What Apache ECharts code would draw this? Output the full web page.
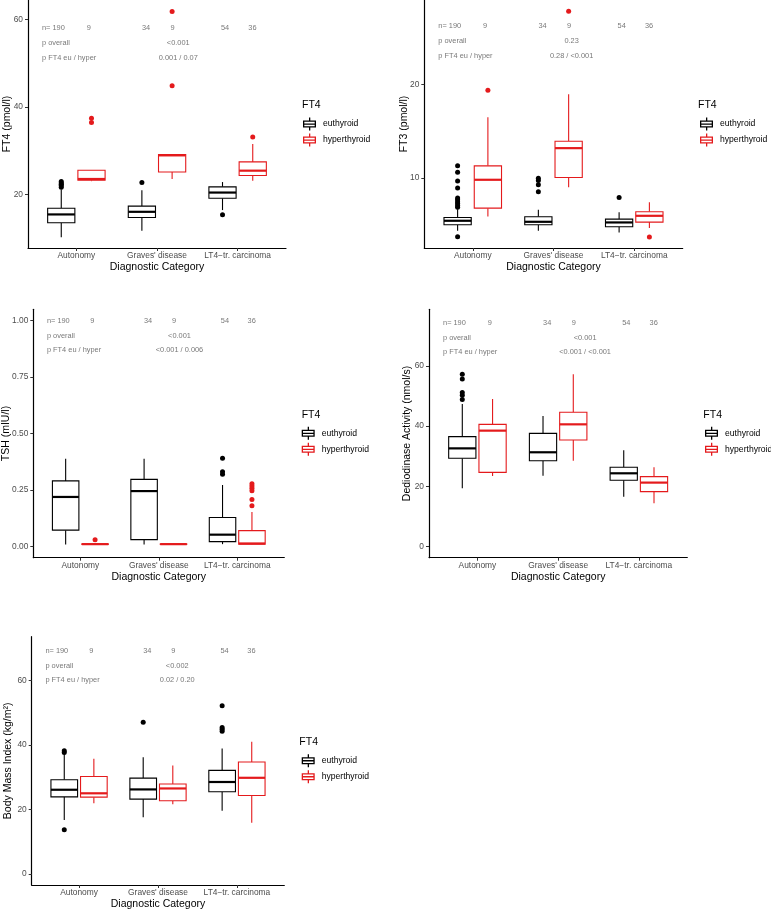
<!DOCTYPE html>
<html>
<head>
<meta charset="utf-8">
<script src="https://cdn.jsdelivr.net/npm/echarts@6/dist/echarts.min.js"></script>
<style>
  html, body { margin: 0; padding: 0; background: #fff; }
  #main { width: 771px; height: 910px; }
</style>
</head>
<body>
<div id="main"></div>
<script>
// categories / groups
const categories = ['Autonomy', "Graves' disease", 'LT4\u2212tr. carcinoma'];
const groups = ['euthyroid', 'hyperthyroid'];

// box stats per category: [min, Q1, median, Q3, max]
const ft4Eu = [[10.2, 13.5, 15.4, 16.8, 21.1], [11.7, 14.7, 16.0, 17.3, 20.9], [16.4, 19.1, 20.4, 21.7, 22.8]];
const ft4Hyper = [[23.0, 23.2, 23.5, 25.5, 25.5], [23.5, 25.1, 28.9, 29.1, 29.1], [23.1, 24.3, 25.4, 27.4, 31.5]];
const ft4EuOut = [[22.9, 22.6, 22.3, 22.0, 21.6], [22.7], [15.3]];
const ft4HyperOut = [[37.4, 36.4], [44.8, 61.8], [33.1]];

const ft3Eu = [[4.34, 4.98, 5.41, 5.76, 6.65], [4.34, 4.98, 5.3, 5.84, 6.58], [4.16, 4.77, 5.23, 5.59, 6.33]];
const ft3Hyper = [[5.87, 6.76, 9.79, 11.28, 16.48], [9.0, 10.04, 13.17, 13.91, 18.93], [4.63, 5.27, 5.94, 6.37, 7.4]];
const ft3EuOut = [[11.3, 10.6, 9.65, 8.9, 7.85, 7.65, 7.45, 7.25, 7.05, 6.85, 3.7], [9.95, 9.7, 9.25, 8.5], [7.9]];
const ft3HyperOut = [[19.36], [27.8], [3.67]];

const tshEu = [[0.009, 0.072, 0.219, 0.29, 0.388], [0.009, 0.03, 0.245, 0.297, 0.388], [0.01, 0.021, 0.052, 0.128, 0.272]];
const tshHyper = [[0.008, 0.009, 0.01, 0.011, 0.012], [0.008, 0.009, 0.01, 0.011, 0.012], [0.008, 0.01, 0.013, 0.07, 0.152]];
const tshEuOut = [[], [], [0.39, 0.331, 0.32]];
const tshHyperOut = [[0.03], [], [0.277, 0.267, 0.257, 0.246, 0.208, 0.18]];

const deiEu = [[19.3, 29.3, 32.6, 36.5, 47.4], [23.5, 28.5, 31.3, 37.6, 43.4], [16.5, 22.0, 24.3, 26.3, 32.0]];
const deiHyper = [[23.4, 24.6, 38.5, 40.6, 49.0], [28.5, 35.4, 40.6, 44.6, 57.3], [14.3, 18.2, 21.2, 23.2, 26.3]];
const deiEuOut = [[57.3, 55.7, 51.2, 50.3, 48.9], [], []];
const deiHyperOut = [[], [], []];

const bmiEu = [[16.7, 23.9, 26.1, 29.2, 37.2], [17.6, 23.2, 26.2, 29.7, 36.2], [19.6, 25.5, 28.5, 32.1, 38.9]];
const bmiHyper = [[21.9, 23.8, 25.0, 30.2, 35.7], [21.6, 22.7, 26.5, 27.9, 33.6], [15.9, 24.3, 29.8, 34.7, 41.0]];
const bmiEuOut = [[38.2, 37.6, 13.7], [47.0], [52.1, 45.4, 44.8, 44.2]];
const bmiHyperOut = [[], [], []];

// annotation texts
const nCounts = ['n= 190', '9', '34', '9', '54', '36'];
const pOverall = ['<0.001', '0.23', '<0.001', '<0.001', '<0.002'];
const pEuHyper = ['0.001 / 0.07', '0.28 / <0.001', '<0.001 / 0.006', '<0.001 / <0.001', '0.02 / 0.20'];

// y ticks per panel
const ft4Ticks = [20, 40, 60];
const ft3Ticks = [10, 20];
const tshTicks = [0, 0.25, 0.5, 0.75, 1];
const deiTicks = [0, 20, 40, 60];
const bmiTicks = [0, 20, 40, 60];

const RED = '#E41A1C';
const BLACK = '#000000';
const DODGE = 0.1875;
const BOX_W = 0.3375;
const FONT = '"Liberation Sans", Arial, sans-serif';

// legend glyph (mini boxplot)
const glyph = 'path://M6,0h1.3v3h-1.3z M0,3h13v1.3h-13z M0,3h1.3v7h-1.3z M11.7,3h1.3v7h-1.3z M0,8.7h13v1.3h-13z M0,5.9h13v1.3h-13z M6,10h1.3v3h-1.3z';

// panel layout
const panels = [
    { title: 'FT4 (pmol/l)', eu: ft4Eu, hyper: ft4Hyper, euOut: ft4EuOut, hyperOut: ft4HyperOut, ticks: ft4Ticks,
      grid: { left: 28, top: 0, width: 258, height: 248 }, yMin: 7.73, yMax: 64.4, nameGap: 15,
      noteY: [57.8, 54.4, 51.0], pX: 2.27, legend: { left: 303, top: 117.5 }, titleTop: 100, titleLeft: 302 },
    { title: 'FT3 (pmol/l)', eu: ft3Eu, hyper: ft3Hyper, euOut: ft3EuOut, hyperOut: ft3HyperOut, ticks: ft3Ticks,
      grid: { left: 424.3, top: 0, width: 258.4, height: 248 }, yMin: 2.5, yMax: 29.0, nameGap: 15,
      noteY: [26.16, 24.56, 22.95], pX: 2.23, legend: { left: 700, top: 117.5 }, titleTop: 100, titleLeft: 698 },
    { title: 'TSH (mIU/l)', eu: tshEu, hyper: tshHyper, euOut: tshEuOut, hyperOut: tshHyperOut, ticks: tshTicks,
      grid: { left: 33.3, top: 309.3, width: 251, height: 248.4 }, yMin: -0.05, yMax: 1.05, nameGap: 22, digits: 2,
      noteY: [0.996, 0.929, 0.866], pX: 2.27, legend: { left: 301.7, top: 426.8 }, titleTop: 409.7, titleLeft: 301.7 },
    { title: 'Dediodinase Activity (nmol/s)', eu: deiEu, hyper: deiHyper, euOut: deiEuOut, hyperOut: deiHyperOut, ticks: deiTicks,
      grid: { left: 429, top: 309.3, width: 258.3, height: 248.4 }, yMin: -3.8, yMax: 78.9, nameGap: 16,
      noteY: [74.2, 69.3, 64.4], pX: 2.34, legend: { left: 705, top: 426.8 }, titleTop: 409.7, titleLeft: 703.3 },
    { title: 'Body Mass Index (kg/m\u00B2)', eu: bmiEu, hyper: bmiHyper, euOut: bmiEuOut, hyperOut: bmiHyperOut, ticks: bmiTicks,
      grid: { left: 31.7, top: 636.7, width: 252.6, height: 248.3 }, yMin: -3.4, yMax: 73.5, nameGap: 18,
      noteY: [69.0, 64.3, 59.9], pX: 2.25, legend: { left: 301.7, top: 754.2 }, titleTop: 736.7, titleLeft: 299.3 }
];

// x positions of the n labels (data units)
const nX = [0.58, 1.16, 1.87, 2.2, 2.85, 3.19];

function boxRenderer(color) {
    return function (params, api) {
        const x = api.value(0);
        const lo = api.coord([x, api.value(1)]);
        const q1 = api.coord([x, api.value(2)]);
        const med = api.coord([x, api.value(3)]);
        const q3 = api.coord([x, api.value(4)]);
        const hi = api.coord([x, api.value(5)]);
        const w = api.size([BOX_W, 0])[0];
        const thin = { stroke: color, lineWidth: 1.1, fill: null };
        return {
            type: 'group',
            children: [
                { type: 'line', shape: { x1: lo[0], y1: lo[1], x2: q1[0], y2: q1[1] }, style: thin },
                { type: 'line', shape: { x1: q3[0], y1: q3[1], x2: hi[0], y2: hi[1] }, style: thin },
                { type: 'rect', shape: { x: q1[0] - w / 2, y: q3[1], width: w, height: q1[1] - q3[1] },
                  style: { stroke: color, lineWidth: 1.1, fill: '#fff' } },
                { type: 'line', shape: { x1: med[0] - w / 2, y1: med[1], x2: med[0] + w / 2, y2: med[1] },
                  style: { stroke: color, lineWidth: 2.2 } }
            ]
        };
    };
}

const option = {
    animation: false,
    backgroundColor: '#fff',
    textStyle: { fontFamily: FONT },
    grid: [], xAxis: [], yAxis: [], series: [], legend: [], title: []
};

panels.forEach((p, k) => {
    option.grid.push(Object.assign({ outerBoundsMode: 'none', containLabel: false }, p.grid));

    option.xAxis.push({
        type: 'value', gridIndex: k, min: 0.4, max: 3.6,
        name: 'Diagnostic Category', nameLocation: 'middle', nameGap: 14, nameMoveOverlap: false,
        nameTextStyle: { color: '#000', fontSize: 10.5, fontFamily: FONT },
        axisLine: { show: true, onZero: false, lineStyle: { color: '#000', width: 1.2 } },
        axisTick: { show: true, length: 3, customValues: [1, 2, 3], lineStyle: { color: '#333', width: 1 } },
        axisLabel: { customValues: [1, 2, 3], color: '#4D4D4D', fontSize: 8.4, margin: 4, fontFamily: FONT,
                     formatter: v => categories[Math.round(v) - 1] },
        splitLine: { show: false }
    });

    option.yAxis.push({
        type: 'value', gridIndex: k, min: p.yMin, max: p.yMax,
        name: p.title, nameLocation: 'middle', nameGap: p.nameGap, nameMoveOverlap: false,
        nameTextStyle: { color: '#000', fontSize: 10.5, fontFamily: FONT },
        axisLine: { show: true, onZero: false, lineStyle: { color: '#000', width: 1.2 } },
        axisTick: { show: true, length: 3, customValues: p.ticks, lineStyle: { color: '#333', width: 1 } },
        axisLabel: { customValues: p.ticks, color: '#4D4D4D', fontSize: 8.4, margin: 5, fontFamily: FONT,
                     formatter: v => p.digits ? v.toFixed(p.digits) : String(v) },
        splitLine: { show: false }
    });

    // boxes
    [[p.eu, -DODGE, BLACK, groups[0]], [p.hyper, DODGE, RED, groups[1]]].forEach(([stats, off, color, name]) => {
        option.series.push({
            type: 'custom', name: name, xAxisIndex: k, yAxisIndex: k,
            renderItem: boxRenderer(color),
            itemStyle: { color: color },
            encode: { x: 0, y: [1, 2, 3, 4, 5] },
            data: stats.map((s, i) => [i + 1 + off].concat(s)),
            silent: true
        });
    });

    // outliers
    [[p.euOut, -DODGE, BLACK, groups[0]], [p.hyperOut, DODGE, RED, groups[1]]].forEach(([outs, off, color, name]) => {
        const pts = [];
        outs.forEach((list, i) => list.forEach(v => pts.push([i + 1 + off, v])));
        option.series.push({
            type: 'scatter', name: name + ' outliers', xAxisIndex: k, yAxisIndex: k,
            symbol: 'circle', symbolSize: 5, itemStyle: { color: color, opacity: 1 },
            data: pts, silent: true
        });
    });

    // annotation texts
    const notes = [];
    const noteLabel = (text, align) => ({
        show: true, formatter: text, position: [0, 0], align: align, verticalAlign: 'middle',
        color: '#555', fontSize: 7.4, fontFamily: FONT
    });
    nCounts.forEach((t, i) => notes.push({ value: [nX[i], p.noteY[0]], label: noteLabel(t, i === 0 ? 'left' : 'center') }));
    notes.push({ value: [nX[0], p.noteY[1]], label: noteLabel('p overall', 'left') });
    notes.push({ value: [nX[0], p.noteY[2]], label: noteLabel('p FT4 eu / hyper', 'left') });
    notes.push({ value: [p.pX, p.noteY[1]], label: noteLabel(pOverall[k], 'center') });
    notes.push({ value: [p.pX, p.noteY[2]], label: noteLabel(pEuHyper[k], 'center') });
    option.series.push({
        type: 'scatter', name: 'notes' + k, xAxisIndex: k, yAxisIndex: k,
        symbolSize: 1, itemStyle: { color: 'rgba(0,0,0,0)' },
        data: notes, silent: true
    });

    // legend
    option.title.push({
        text: 'FT4', left: p.titleLeft, top: p.titleTop, padding: 0,
        textStyle: { fontSize: 10.5, fontWeight: 'normal', color: '#000', fontFamily: FONT }
    });
    option.legend.push({
        orient: 'vertical', left: p.legend.left, top: p.legend.top, padding: 0,
        itemWidth: 13, itemHeight: 13, itemGap: 3, selectedMode: false,
        textStyle: { fontSize: 8.6, color: '#000', fontFamily: FONT, padding: [0, 0, 0, 2] },
        data: [
            { name: groups[0], icon: glyph, itemStyle: { color: BLACK, borderWidth: 0 } },
            { name: groups[1], icon: glyph, itemStyle: { color: RED, borderWidth: 0 } }
        ]
    });
});

const myChart = echarts.init(document.getElementById('main'), null, { renderer: 'canvas' });
myChart.setOption(option);
</script>
</body>
</html>
